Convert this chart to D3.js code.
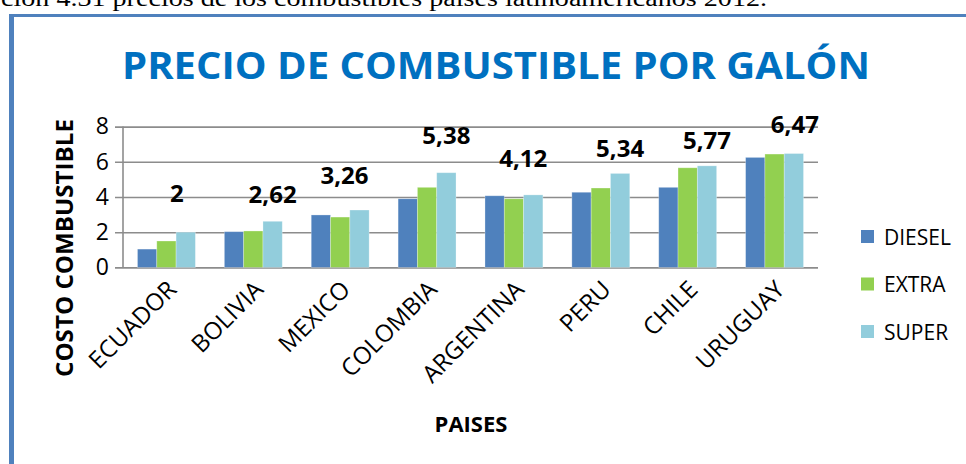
<!DOCTYPE html>
<html>
<head>
<meta charset="utf-8">
<script src="https://cdn.jsdelivr.net/npm/d3@7/dist/d3.min.js"></script>
<style>
  html, body { margin: 0; padding: 0; background: #fff; }
  svg { display: block; }
</style>
</head>
<body>
<svg id="chart" width="966" height="464"></svg>
<script>
// Fuel price per gallon by country (2012)
const categories = ["ECUADOR", "BOLIVIA", "MEXICO", "COLOMBIA", "ARGENTINA", "PERU", "CHILE", "URUGUAY"];
const seriesNames = ["DIESEL", "EXTRA", "SUPER"];
const dieselValues = [1.04, 2.03, 2.98, 3.90, 4.07, 4.27, 4.55, 6.25];
const extraValues  = [1.50, 2.07, 2.86, 4.55, 3.90, 4.51, 5.66, 6.44];
const superValues  = [2.00, 2.62, 3.26, 5.38, 4.12, 5.34, 5.77, 6.47];
const superLabels  = ["2", "2,62", "3,26", "5,38", "4,12", "5,34", "5,77", "6,47"];
const yTickValues  = [0, 2, 4, 6, 8];

const colors = ["#4F81BD", "#92D050", "#92CDDC"];

// hand-placed offsets of the value labels (dx, gap above the bar)
const labelDx  = [-9, 0, -15, 0, -10, 0, 0, 1];
const labelGap = [30, 18, 26, 29, 28, 16, 17, 21];

const svg = d3.select("#chart");
const font = "'Open Sans', 'DejaVu Sans', sans-serif";

// caption line above the frame
svg.append("text")
  .attr("x", 1).attr("y", 6)
  .attr("font-family", "'Liberation Serif', 'Times New Roman', serif")
  .attr("font-size", 23)
  .attr("textLength", 766).attr("lengthAdjust", "spacingAndGlyphs")
  .attr("fill", "#000")
  .text("ción 4.31 precios de los combustibles países latinoamericanos 2012.");

// frame border (top and left edges)
svg.append("rect").attr("x", 9).attr("y", 14).attr("width", 957).attr("height", 3).attr("fill", "#4F81BD");
svg.append("rect").attr("x", 9).attr("y", 14).attr("width", 5).attr("height", 450).attr("fill", "#4F81BD");

// title
svg.append("text")
  .attr("x", 496).attr("y", 78.5)
  .attr("text-anchor", "middle")
  .attr("font-family", font).attr("font-weight", 700)
  .attr("font-size", 37)
  .attr("textLength", 748).attr("lengthAdjust", "spacingAndGlyphs")
  .attr("fill", "#0070C0")
  .text("PRECIO DE COMBUSTIBLE POR GALÓN");

const plot = { left: 123, right: 818, top: 126.6, bottom: 267.4 };

const x = d3.scaleBand()
  .domain(categories)
  .range([plot.left, plot.right])
  .paddingInner(1 / 3)
  .paddingOuter(1 / 6);

const xs = d3.scaleBand().domain(seriesNames).range([0, x.bandwidth()]);

const y = d3.scaleLinear().domain([0, 8]).range([plot.bottom, plot.top]);

// gridlines with tick stubs
const yAxis = d3.axisLeft(y)
  .tickValues(yTickValues)
  .tickSize(-(plot.right - plot.left))
  .tickSizeOuter(0)
  .tickPadding(14)
  .tickFormat(d3.format("d"));

const gy = svg.append("g")
  .attr("transform", `translate(${plot.left},0)`)
  .call(yAxis);
gy.select(".domain").remove();
gy.selectAll(".tick line")
  .attr("x1", -8)
  .attr("stroke", "#8C8C8C").attr("stroke-width", 1.6);
gy.selectAll(".tick text")
  .attr("font-family", font).attr("font-size", 23)
  .attr("fill", "#000");

// vertical axis line
svg.append("line")
  .attr("x1", plot.left).attr("x2", plot.left)
  .attr("y1", plot.top).attr("y2", plot.bottom)
  .attr("stroke", "#8C8C8C").attr("stroke-width", 1.6);

// bars
const rows = categories.map((c, i) => ({
  cat: c,
  vals: [dieselValues[i], extraValues[i], superValues[i]]
}));

const groups = svg.append("g").selectAll("g")
  .data(rows).join("g")
  .attr("transform", d => `translate(${x(d.cat)},0)`);

groups.selectAll("rect")
  .data(d => d.vals.map((v, k) => ({ key: seriesNames[k], v, k })))
  .join("rect")
  .attr("x", d => xs(d.key))
  .attr("width", xs.bandwidth())
  .attr("y", d => y(d.v))
  .attr("height", d => y(0) - y(d.v))
  .attr("fill", d => colors[d.k])
  .attr("stroke", "rgba(255,255,255,0.35)")
  .attr("stroke-width", 0.8);

// value labels for the SUPER series
svg.append("g").selectAll("text")
  .data(rows).join("text")
  .attr("x", (d, i) => x(d.cat) + xs("SUPER") + xs.bandwidth() / 2 + labelDx[i])
  .attr("y", (d, i) => y(superValues[i]) - labelGap[i])
  .attr("text-anchor", "middle")
  .attr("font-family", font).attr("font-weight", 700).attr("font-size", 24)
  .attr("fill", "#000")
  .text((d, i) => superLabels[i]);

// rotated category labels
svg.append("g").selectAll("text")
  .data(categories).join("text")
  .attr("transform", d => `translate(${x(d) + x.bandwidth() / 2 + 7},${plot.bottom + 19}) rotate(-45)`)
  .attr("text-anchor", "end")
  .attr("dominant-baseline", "middle")
  .attr("font-family", font).attr("font-size", 24)
  .attr("fill", "#000")
  .text(d => d);

// axis titles
svg.append("text")
  .attr("x", 471).attr("y", 432)
  .attr("text-anchor", "middle")
  .attr("font-family", font).attr("font-weight", 700).attr("font-size", 22)
  .attr("fill", "#000")
  .text("PAISES");

svg.append("text")
  .attr("transform", "translate(73,248) rotate(-90)")
  .attr("text-anchor", "middle")
  .attr("font-family", font).attr("font-weight", 700).attr("font-size", 23)
  .attr("textLength", 258).attr("lengthAdjust", "spacingAndGlyphs")
  .attr("fill", "#000")
  .text("COSTO COMBUSTIBLE");

// legend
const legend = svg.append("g").selectAll("g")
  .data(seriesNames).join("g")
  .attr("transform", (d, i) => `translate(861,${230 + i * 47.5})`);
legend.append("rect")
  .attr("width", 13).attr("height", 13)
  .attr("fill", (d, i) => colors[i]);
legend.append("text")
  .attr("x", 23).attr("y", 14.5)
  .attr("font-family", font).attr("font-size", 21)
  .attr("fill", "#000")
  .text(d => d);
</script>
</body>
</html>
